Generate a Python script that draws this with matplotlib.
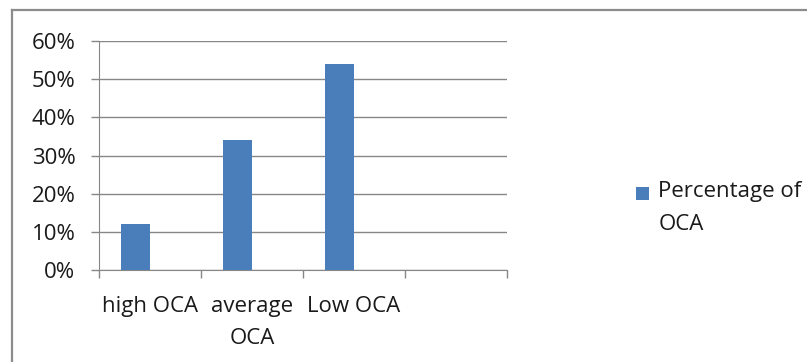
import matplotlib.pyplot as plt
from matplotlib.lines import Line2D
from matplotlib.patches import Rectangle
from matplotlib.legend_handler import HandlerPatch, update_from_first_child
from matplotlib.ticker import FixedLocator, PercentFormatter

categories = ['high OCA', 'average\nOCA', 'Low OCA', '']
values = [12, 34, 54]
series_name = 'Percentage of\nOCA'
y_ticks = [0, 10, 20, 30, 40, 50, 60]

bar_color = '#4a7ebb'
grid_color = '#878787'
text_color = '#1a1a1a'
fs = 16

plt.rcParams['font.family'] = ['Open Sans', 'DejaVu Sans']

W, H = 807, 362
fig = plt.figure(figsize=(W / 100, H / 100), dpi=100)

# chart frame (only left and top edges are inside the picture)
fig.add_artist(Line2D([12 / W, 12 / W], [0, 1 - 10 / H], color='#8c8c8c', lw=1.6,
                      transform=fig.transFigure))
fig.add_artist(Line2D([12 / W, 1], [1 - 10 / H, 1 - 10 / H], color='#8c8c8c', lw=1.6,
                      transform=fig.transFigure))

ax = fig.add_axes([99 / W, (H - 270) / H, (507 - 99) / W, (270 - 41) / H])

x = list(range(len(values)))
bars = ax.bar([i - 0.14 for i in x], values, width=0.285, color=bar_color, zorder=3,
              label=series_name)

ax.set_xlim(-0.5, len(categories) - 0.5)
ax.set_ylim(0, 60)
ax.set_yticks(y_ticks)
ax.yaxis.set_major_formatter(PercentFormatter(decimals=0))
ax.grid(axis='y', color=grid_color, lw=1, zorder=0)

ax.xaxis.set_major_locator(FixedLocator([i - 0.5 for i in range(len(categories) + 1)]))
ax.xaxis.set_major_formatter(plt.NullFormatter())
ax.xaxis.set_minor_locator(FixedLocator(range(len(categories))))
ax.set_xticklabels(categories, minor=True)
ax.tick_params(axis='x', which='major', length=6, color=grid_color, width=1)
ax.tick_params(axis='x', which='minor', length=0, pad=18.5, labelsize=fs, colors=text_color)
ax.tick_params(axis='y', length=6, color=grid_color, width=1, pad=11, labelsize=fs,
               colors=text_color)
for lbl in ax.get_xticklabels(minor=True):
    lbl.set_linespacing(1.7)

for s in ['top', 'right']:
    ax.spines[s].set_visible(False)
ax.spines['left'].set_color(grid_color)
ax.spines['bottom'].set_color(grid_color)


# square marker sitting on the first line of the two-line legend label
def square(legend, orig_handle, xdescent, ydescent, width, height, fontsize):
    side = 0.6 * fontsize
    return Rectangle((-xdescent, -ydescent + 11), side, side)


leg = ax.legend(loc='center left', bbox_to_anchor=(636 / W, (H - 208) / H),
                bbox_transform=fig.transFigure, frameon=False, fontsize=fs,
                borderpad=0, borderaxespad=0,
                handlelength=0.6, handleheight=0.6, handletextpad=0.4,
                handler_map={type(bars): HandlerPatch(patch_func=square,
                                                      update_func=update_from_first_child)})
for t in leg.get_texts():
    t.set_color(text_color)
    t.set_linespacing(1.7)

fig.savefig('out.png', dpi=100)
